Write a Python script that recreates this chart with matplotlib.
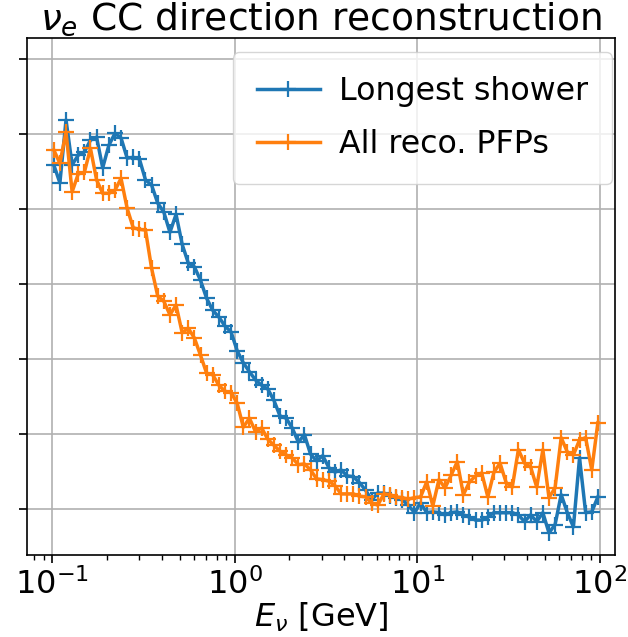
import numpy as np
import matplotlib
matplotlib.use("Agg")
import matplotlib.pyplot as plt

# Energy bin positions (log-spaced, GeV)
n_bins = 90
energy = np.logspace(-0.99, 1.99, n_bins)

longest_shower = [
    55.9, 53.5, 61.9, 55.9, 57.2, 57.6, 59.2, 59.6, 55.5, 58.5,
    60.1, 59.5, 56.8, 56.9, 56.7, 53.9, 53.2, 50.8, 49.6, 46.9,
    49.3, 45.3, 42.8, 42.3, 40.5, 38.1, 36.5, 35.6, 34.4, 33.6,
    31.1, 29.5, 28.3, 27.2, 26.5, 26.0, 24.5, 22.4, 22.1, 20.8,
    18.9, 19.9, 17.3, 16.4, 17.1, 15.5, 14.9, 15.2, 14.4, 14.3,
    13.5, 12.5, 11.2, 12.1, 12.1, 11.7, 11.5, 11.2, 10.5, 9.5,
    10.8, 9.5, 9.6, 9.5, 9.2, 9.5, 9.6, 9.2, 8.9, 8.5,
    8.5, 8.9, 9.5, 9.5, 9.5, 9.5, 9.2, 8.3, 9.2, 8.3,
    9.5, 6.8, 7.9, 11.9, 9.5, 7.6, 16.8, 9.5, 9.6, 11.6,
]

all_reco_pfps = [
    57.9, 56.1, 60.3, 52.3, 54.7, 54.9, 58.1, 53.9, 52.1, 52.1,
    52.5, 54.1, 50.1, 47.5, 47.3, 47.2, 42.1, 38.4, 37.7, 35.9,
    37.2, 33.5, 34.1, 32.8, 30.5, 28.1, 27.9, 26.5, 25.7, 25.5,
    24.1, 20.9, 22.1, 20.3, 20.8, 19.3, 18.5, 17.7, 17.2, 16.8,
    15.9, 16.0, 15.2, 14.0, 13.9, 13.7, 13.1, 12.0, 12.0, 12.0,
    11.7, 11.6, 10.8, 10.5, 12.0, 11.9, 11.6, 11.5, 11.3, 11.5,
    11.6, 13.6, 10.4, 13.9, 12.8, 14.5, 16.3, 11.9, 13.6, 14.4,
    14.8, 11.6, 14.9, 16.1, 13.5, 12.9, 17.9, 16.1, 15.6, 12.9,
    17.9, 11.5, 12.8, 19.5, 17.6, 17.2, 19.2, 19.5, 15.2, 21.5,
]

labels = ["Longest shower", "All reco. PFPs"]
y_ticks = [10, 20, 30, 40, 50, 60, 70]

fig = plt.figure(figsize=(6.28, 6.37), dpi=100)
ax = fig.add_axes([0.043, 0.129, 0.936, 0.811])

ax.plot(energy, longest_shower, color="#1f77b4", lw=2.5, marker="+",
        ms=11, mew=1.6, label=labels[0])
ax.plot(energy, all_reco_pfps, color="#ff7f0e", lw=2.5, marker="+",
        ms=11, mew=1.6, label=labels[1])

ax.set_xscale("log")
ax.set_xlim(0.073, 121)
ax.set_ylim(3.87, 72.8)
ax.set_yticks(y_ticks)
ax.tick_params(axis="y", labelleft=False, length=6, width=1.2)
ax.tick_params(axis="x", which="major", labelsize=23, length=6, width=1.2)
ax.tick_params(axis="x", which="minor", length=3.5, width=1.0)
ax.grid(True, which="major", color="#b0b0b0", lw=1.2)
for s in ax.spines.values():
    s.set_linewidth(1.2)

ax.set_xlabel(r"$E_{\nu}$ [GeV]", fontsize=23, labelpad=0)
ax.set_title(r"$\nu_e$ CC direction reconstruction", fontsize=27, pad=5)
ax.legend(loc="upper right", bbox_to_anchor=(0.995, 0.973), borderaxespad=0,
          fontsize=22.8, handlelength=2.0, borderpad=0.75, labelspacing=0.7,
          handletextpad=0.6)

fig.savefig("out.png", dpi=100)
